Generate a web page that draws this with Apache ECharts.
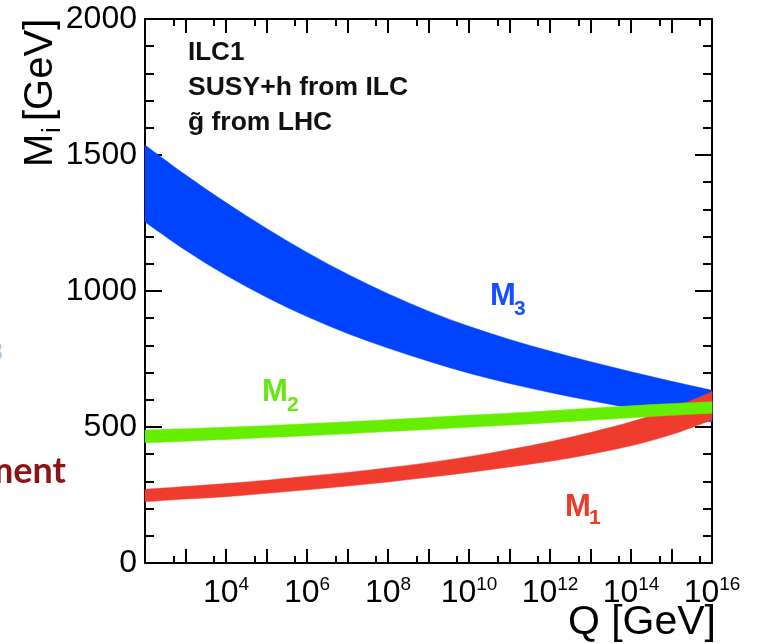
<!DOCTYPE html>
<html>
<head>
<meta charset="utf-8">
<title>Running gaugino masses</title>
<script src="https://cdn.jsdelivr.net/npm/echarts@6/dist/echarts.min.js"></script>
<style>
  html, body { margin: 0; padding: 0; background: #fff; }
  #chart { width: 758px; height: 644px; }
</style>
</head>
<body>
<div id="chart"></div>
<script>
// Q [GeV], one point per decade from 10^2 to 10^16
const qValues = [1e2, 1e3, 1e4, 1e5, 1e6, 1e7, 1e8, 1e9, 1e10, 1e11, 1e12, 1e13, 1e14, 1e15, 1e16];

// M3 band (blue)
const m3Low  = [1254, 1150, 1058, 977, 906, 844, 790, 742, 698, 660, 627, 597, 569, 543, 518];
const m3High = [1537, 1427, 1325, 1230, 1142, 1062, 990, 926, 870, 822, 779, 740, 703, 668, 635];

// M1 band (red)
const m1Low  = [225, 235, 244, 256, 269, 283, 298, 315, 333, 353, 374, 400, 431, 472, 526];
const m1High = [271, 281, 292, 304, 319, 333, 350, 369, 391, 417, 446, 480, 519, 568, 630];

// M2 band (green)
const m2Low  = [442, 448, 454, 461, 468, 475, 483, 491, 499, 507, 516, 525, 534, 543, 551];
const m2High = [489, 494, 499, 505, 512, 519, 527, 535, 543, 551, 560, 569, 578, 586, 593];

// axis ticks
const xMajorTicks = [1e3, 1e4, 1e5, 1e6, 1e7, 1e8, 1e9, 1e10, 1e11, 1e12, 1e13, 1e14, 1e15];
const xMinorTicks = [5e2, 5e3, 5e4, 5e5, 5e6, 5e7, 5e8, 5e9, 5e10, 5e11, 5e12, 5e13, 5e14, 5e15];
const xLabelTicks = [1e4, 1e6, 1e8, 1e10, 1e12, 1e14, 1e16];

const FONT = '"Liberation Sans", Arial, sans-serif';
const BLACK = '#000';

const chart = echarts.init(document.getElementById('chart'), null, { renderer: 'canvas' });

// smooth curve through pixel points (Catmull-Rom as cubic beziers)
function curve(pts, start) {
  let d = (start ? 'M' : 'L') + pts[0][0] + ',' + pts[0][1];
  for (let i = 0; i < pts.length - 1; i++) {
    const p0 = pts[Math.max(i - 1, 0)];
    const p1 = pts[i];
    const p2 = pts[i + 1];
    const p3 = pts[Math.min(i + 2, pts.length - 1)];
    const c1x = p1[0] + (p2[0] - p0[0]) / 6;
    const c1y = p1[1] + (p2[1] - p0[1]) / 6;
    const c2x = p2[0] - (p3[0] - p1[0]) / 6;
    const c2y = p2[1] - (p3[1] - p1[1]) / 6;
    d += 'C' + c1x + ',' + c1y + ' ' + c2x + ',' + c2y + ' ' + p2[0] + ',' + p2[1];
  }
  return d;
}

function bandSeries(name, low, high, color) {
  return {
    type: 'custom',
    name: name,
    xAxisIndex: 0,
    yAxisIndex: 0,
    silent: true,
    data: qValues.map((q, i) => [q, low[i], high[i]]),
    encode: { x: 0, y: [1, 2] },
    renderItem: (params, api) => {
      if (params.dataIndexInside !== 0) return null;
      const n = params.dataInsideLength;
      const top = [];
      const bottom = [];
      for (let i = 0; i < n; i++) {
        top.push(api.coord([api.value(0, i), api.value(2, i)]));
        bottom.push(api.coord([api.value(0, i), api.value(1, i)]));
      }
      bottom.reverse();
      return {
        type: 'path',
        shape: { pathData: curve(top, true) + curve(bottom, false) + 'Z' },
        style: { fill: color, stroke: color, lineWidth: 0.5 }
      };
    }
  };
}

const lineStyle = { color: BLACK, width: 2 };

function xAxis(position, ticks, len, withLine, withLabels) {
  return {
    type: 'log',
    logBase: 10,
    min: 1e2,
    max: 1e16,
    position: position,
    axisLine: { show: withLine, onZero: false, lineStyle: lineStyle },
    axisTick: { show: true, inside: true, length: len, customValues: ticks, lineStyle: lineStyle },
    splitLine: { show: false },
    axisLabel: withLabels ? {
      show: true,
      customValues: xLabelTicks,
      margin: 12,
      formatter: v => '{b|10}{s|' + Math.round(Math.log10(v)) + '}',
      rich: {
        b: { fontSize: 32, fontFamily: FONT, color: BLACK, lineHeight: 36 },
        s: { fontSize: 19, fontFamily: FONT, color: BLACK, verticalAlign: 'top', lineHeight: 19 }
      }
    } : { show: false }
  };
}

function yAxis(position, withLabels) {
  return {
    type: 'value',
    min: 0,
    max: 2000,
    interval: 500,
    position: position,
    axisLine: { show: true, onZero: false, lineStyle: lineStyle },
    axisTick: { show: true, inside: true, length: 17, lineStyle: lineStyle },
    minorTick: { show: true, splitNumber: 5, length: 9, lineStyle: lineStyle },
    splitLine: { show: false },
    minorSplitLine: { show: false },
    axisLabel: withLabels
      ? { show: true, fontSize: 32, fontFamily: FONT, color: BLACK, margin: 8, formatter: v => String(v) }
      : { show: false }
  };
}

function label(x, y, text, size, color, opts) {
  return Object.assign({
    type: 'text',
    x: x,
    y: y,
    z: 100,
    silent: true,
    style: Object.assign({
      text: text,
      fill: color,
      font: size + 'px ' + FONT,
      align: 'left',
      verticalAlign: 'middle'
    }, (opts && opts.style) || {})
  }, (opts && opts.el) || {});
}

const bold = (x, y, text, size, color) =>
  label(x, y, text, size, color, { style: { font: 'bold ' + size + 'px ' + FONT } });

const rot = { el: { rotation: Math.PI / 2 } };

chart.setOption({
  backgroundColor: '#fff',
  animation: false,
  grid: { left: 145, right: 46, top: 19, bottom: 81, containLabel: false, outerBoundsMode: 'none' },
  xAxis: [
    xAxis('bottom', xMajorTicks, 14, true, true),
    xAxis('bottom', xMinorTicks, 7, false, false),
    xAxis('top', xMajorTicks, 14, true, false),
    xAxis('top', xMinorTicks, 7, false, false)
  ],
  yAxis: [yAxis('left', true), yAxis('right', false)],
  series: [
    bandSeries('M3', m3Low, m3High, '#0044ff'),
    bandSeries('M1', m1Low, m1High, '#f03c2e'),
    bandSeries('M2', m2Low, m2High, '#66ee00')
  ],
  graphic: [
    // text block
    bold(188, 53, 'ILC1', 26, '#111'),
    bold(188, 88, 'SUSY+h from ILC', 26.5, '#111'),
    bold(188, 123, 'g\u0303 from LHC', 26.5, '#111'),
    // band labels
    bold(490, 296, 'M', 31, '#1450ff'),
    bold(514, 309, '3', 21, '#1450ff'),
    bold(262, 392, 'M', 31, '#66e810'),
    bold(287, 405, '2', 21, '#66e810'),
    bold(565, 507, 'M', 31, '#ee3a2a'),
    bold(589, 518, '1', 21, '#ee3a2a'),
    // axis titles
    label(716, 623, 'Q [GeV]', 41, BLACK, { style: { align: 'right' } }),
    label(41, 167, 'M', 40, BLACK, rot),
    label(53, 133, 'i', 26, BLACK, rot),
    label(41, 121, '[GeV]', 40, BLACK, rot),
    // clipped slide text at the left edge
    label(3, 353, '3', 26, '#a8c8e8', { style: { font: 'bold 26px Lato, sans-serif', align: 'right' } }),
    label(66, 471, 'ment', 36, '#8b1414', { style: { font: 'bold 36px Lato, "Open Sans", sans-serif', align: 'right' } })
  ]
});
</script>
</body>
</html>
